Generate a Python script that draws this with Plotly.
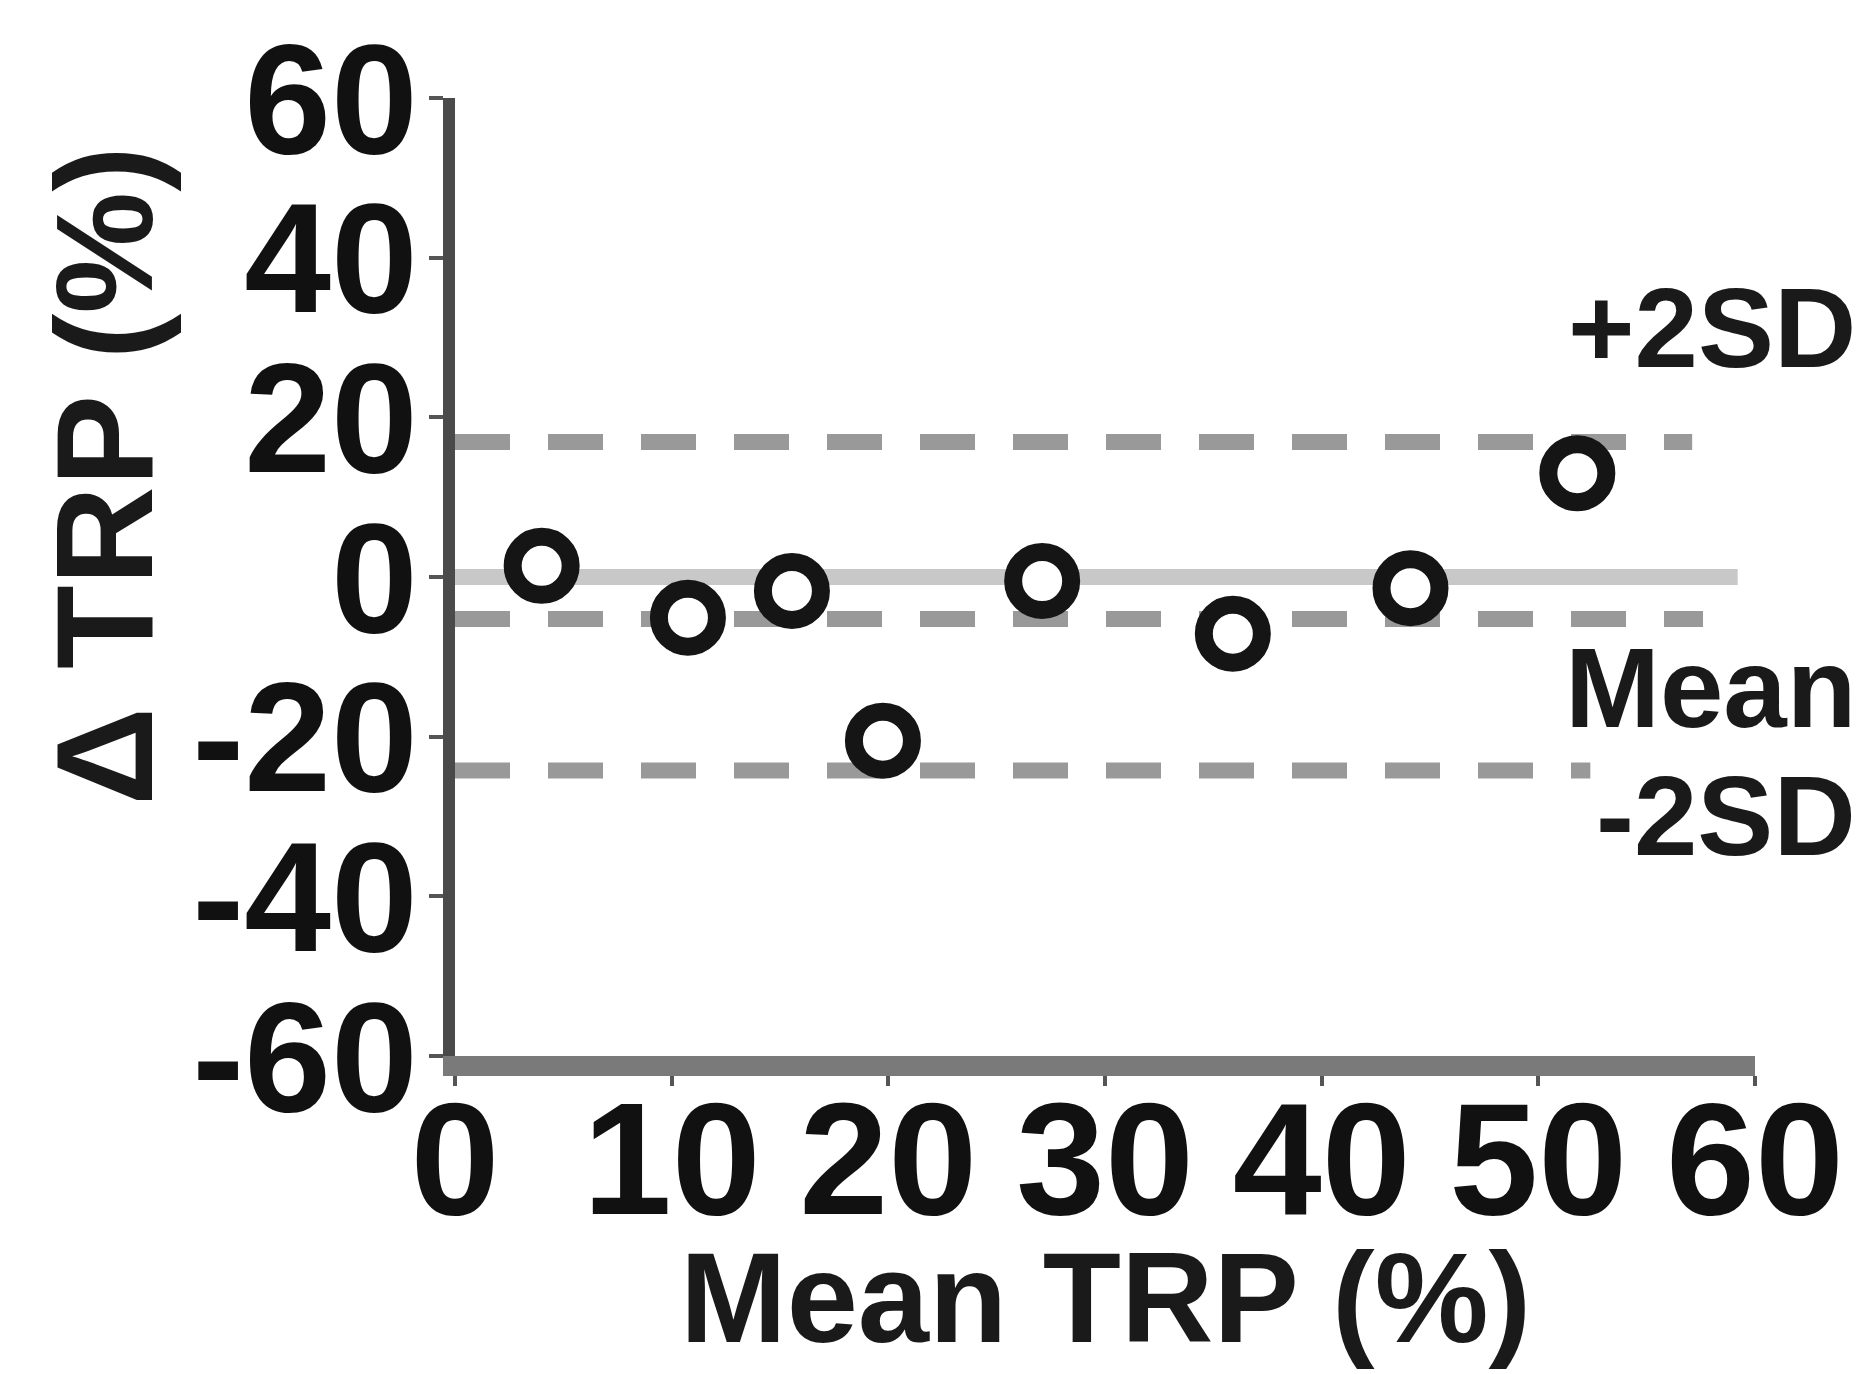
import plotly.graph_objects as go

# Bland-Altman data: mean of the two TRP measurements vs their difference
mean_trp = [4.0, 10.75, 15.55, 19.75, 27.1, 35.9, 44.1, 51.8]
delta_trp = [1.4, -5.1, -1.75, -20.5, -0.5, -7.1, -1.4, 13.0]

# Reference levels and how far along the x axis each one is drawn
upper_loa, upper_end = 16.9, 57.1
bias, bias_end = -5.25, 57.6
zero_ref, zero_end = 0.0, 59.2
lower_loa, lower_end = -24.25, 52.4

# Level labels on the right-hand side
level_text = ["+2SD", "Mean", "-2SD"]
level_text_y = [31.25, -13.9, -29.9]

x_ticks = [0, 10, 20, 30, 40, 50, 60]
y_ticks = [-60, -40, -20, 0, 20, 40, 60]

FONT = "Liberation Sans, Arial, sans-serif"

fig = go.Figure()

# light zero reference line
fig.add_trace(go.Scatter(
    x=[0, zero_end], y=[zero_ref, zero_ref], mode="lines",
    line=dict(color="#c8c8c8", width=16), hoverinfo="skip", showlegend=False))

# dashed limits of agreement and mean difference
for lvl, end in [(upper_loa, upper_end), (bias, bias_end), (lower_loa, lower_end)]:
    fig.add_trace(go.Scatter(
        x=[0, end], y=[lvl, lvl], mode="lines",
        line=dict(color="#999999", width=16, dash="55px,38px"),
        hoverinfo="skip", showlegend=False))

# measurement points
fig.add_trace(go.Scatter(
    x=mean_trp, y=delta_trp, mode="markers",
    marker=dict(symbol="circle", size=58, color="white",
                line=dict(color="#151515", width=18)),
    showlegend=False))

annotations = []
for txt, yy in zip(level_text, level_text_y):
    annotations.append(dict(
        x=1.079, y=yy, xref="paper", yref="y", text=txt, showarrow=False,
        xanchor="right", yanchor="middle",
        font=dict(family=FONT, size=114, color="#1a1a1a", weight="bold")))

# axis titles
annotations.append(dict(
    x=0.5, y=-0.252, xref="paper", yref="paper", text="Mean TRP (%)",
    showarrow=False, xanchor="center", yanchor="middle",
    font=dict(family=FONT, size=128, color="#1a1a1a", weight="bold")))
annotations.append(dict(
    x=-0.27, y=0.605, xref="paper", yref="paper", text="\u0394 TRP (%)",
    textangle=-90, showarrow=False, xanchor="center", yanchor="middle",
    font=dict(family=FONT, size=137, color="#1a1a1a", weight="bold")))

fig.update_layout(
    width=1865, height=1374,
    margin=dict(l=455, r=110, t=96, b=318),
    paper_bgcolor="white", plot_bgcolor="white",
    annotations=annotations,
    xaxis=dict(
        range=[0, 60], tickvals=x_ticks, ticktext=[str(v) for v in x_ticks],
        showline=True, linecolor="#7a7a7a", linewidth=20,
        ticks="outside", ticklen=10, tickwidth=4, tickcolor="#555",
        ticklabelstandoff=-64,
        showgrid=False, zeroline=False,
        tickfont=dict(family=FONT, size=160, color="#111", weight="bold")),
    yaxis=dict(
        range=[-60, 60], tickvals=y_ticks, ticktext=[str(v) for v in y_ticks],
        showline=True, linecolor="#4a4a4a", linewidth=12,
        ticks="outside", ticklen=14, tickwidth=4, tickcolor="#555",
        ticklabelstandoff=-20,
        showgrid=False, zeroline=False,
        tickfont=dict(family=FONT, size=156, color="#111", weight="bold")),
)

fig.write_html("out.html")
